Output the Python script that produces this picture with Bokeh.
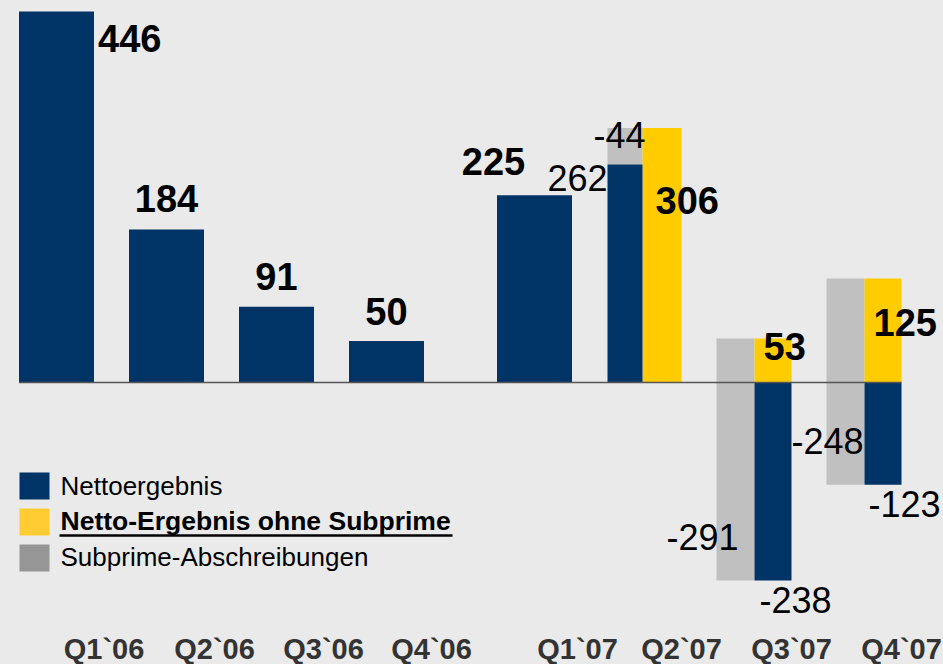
from bokeh.plotting import figure
from bokeh.models import Range1d
from bokeh.core.properties import value
from bokeh.embed import file_html
from bokeh.resources import INLINE

# ---------------- data ----------------
quarters = ["Q1`06", "Q2`06", "Q3`06", "Q4`06", "Q1`07", "Q2`07", "Q3`07", "Q4`07"]
netto = [446, 184, 91, 50, 225, 262, -238, -123]                 # Nettoergebnis
ohne_subprime = [None, None, None, None, None, 306, 53, 125]      # Netto-Ergebnis ohne Subprime
subprime = [None, None, None, None, None, -44, -291, -248]        # Subprime-Abschreibungen
legend_labels = ["Nettoergebnis", "Netto-Ergebnis ohne Subprime", "Subprime-Abschreibungen"]

# ---------------- style / layout ----------------
NAVY = "#003366"
YELLOW = "#ffcc00"
GREY = "#c0c0c0"
LEG_YELLOW = "#ffcc33"
LEG_GREY = "#969696"
BG = "#eaeaea"
FONT = value("Liberation Sans")

W, H = 943, 664
Y0 = 382      # pixel row of the zero line
S = 0.832     # pixels per unit


def ypx(py):
    return (Y0 - py) / S


p = figure(width=W, height=H,
           x_range=Range1d(0, W),
           y_range=Range1d(ypx(H), ypx(0)),
           output_backend="svg", toolbar_location=None,
           x_axis_location=None, y_axis_location=None,
           min_border=0, background_fill_color=BG, border_fill_color=BG,
           outline_line_color=None)
p.grid.visible = False

slot = [56 + 110 * i for i in range(4)] + [534 + 110 * i for i in range(4)]
HALF = 37.5

# ---------------- bars ----------------
single = [i for i in range(len(quarters)) if ohne_subprime[i] is None]
split = [i for i in range(len(quarters)) if ohne_subprime[i] is not None]

p.vbar(x=[slot[i] for i in single], width=2 * HALF,
       top=[netto[i] for i in single], bottom=0,
       fill_color=NAVY, line_color=None)

navy_l, navy_r, navy_t = [], [], []
grey_l, grey_r, grey_b, grey_t = [], [], [], []
yel_l, yel_r, yel_t = [], [], []
for i in split:
    c = slot[i]
    if netto[i] > 0:
        s = c - 2
        navy_l.append(c - 37); navy_r.append(s)
        grey_l.append(c - 37); grey_r.append(s)
    else:
        s = c
        grey_l.append(c - 38); grey_r.append(s)
        navy_l.append(s); navy_r.append(c + 37)
    navy_t.append(netto[i])
    grey_b.append(netto[i]); grey_t.append(ohne_subprime[i])
    yel_l.append(s); yel_r.append(c + 37); yel_t.append(ohne_subprime[i])

p.quad(left=grey_l, right=grey_r, bottom=grey_b, top=grey_t, fill_color=GREY, line_color=None)
p.quad(left=yel_l, right=yel_r, bottom=0, top=yel_t, fill_color=YELLOW, line_color=None)
p.quad(left=navy_l, right=navy_r, bottom=0, top=navy_t, fill_color=NAVY, line_color=None)

# zero line
p.segment(x0=[slot[0] - HALF], x1=[slot[-1] + 37], y0=[0], y1=[0],
          line_color="#555555", line_width=1.5)


# ---------------- texts ----------------
def add_text(xs, ys, texts, size, bold, align, xoff, yoff, color="#000000"):
    # yoff: wanted baseline distance (px, down) from the anchor; corrected for the
    # renderer's placement of the alphabetic baseline
    corr = round(0.37 * size)
    p.text(x=xs, y=ys, text=texts, text_font=FONT, text_font_size=value("%spx" % size),
           text_font_style="bold" if bold else "normal", text_align=align,
           text_baseline="alphabetic", x_offset=xoff, y_offset=[v - corr for v in yoff],
           text_color=color)


def lab(v):
    return str(v)


BOLD, REG = 38, 36

# Nettoergebnis labels
add_text([slot[0] + HALF], [netto[0]], [lab(netto[0])], BOLD, True, "left", [4], [41])
add_text([slot[i] for i in (1, 2, 3)], [netto[i] for i in (1, 2, 3)],
         [lab(netto[i]) for i in (1, 2, 3)], BOLD, True, "center", [0, 0, 0], [-17, -16, -15])
add_text([slot[4]], [netto[4]], [lab(netto[4])], BOLD, True, "center", [-41], [-20])
add_text([slot[5]], [netto[5]], [lab(netto[5])], REG, False, "right", [-37], [26])
add_text([slot[6], slot[7]], [netto[6], netto[7]], [lab(netto[6]), lab(netto[7])],
         REG, False, "left", [5, 4], [32, 32])

# ohne Subprime labels
add_text([slot[i] for i in split], [ohne_subprime[i] for i in split],
         [lab(ohne_subprime[i]) for i in split], BOLD, True, "left", [11, 9, 9], [87, 22, 58])

# Subprime labels (anchored at the bottom of the grey bar)
add_text([slot[i] for i in split], [netto[i] for i in split],
         [lab(subprime[i]) for i in split], REG, False, "right", [1, -16, -1], [-17, -31, -31])

# category labels
cat_off = [47.5, 48, 47, 45, 43, 37, 37, 37]
add_text([slot[i] + cat_off[i] for i in range(len(quarters))],
         [p.y_range.start] * len(quarters), quarters, 29, True, "center",
         [0] * len(quarters), [-5] * len(quarters), color="#333333")

# ---------------- legend ----------------
leg_cols = [NAVY, LEG_YELLOW, LEG_GREY]
tops = [472 + 36 * k for k in range(3)]
p.quad(left=[19] * 3, right=[49] * 3,
       top=[ypx(t) for t in tops], bottom=[ypx(t + 27) for t in tops],
       fill_color=leg_cols, line_color=None)
bases = [495, 530, 566]
add_text([60], [ypx(bases[0])], [legend_labels[0]], 26, False, "left", [0], [0])
add_text([60], [ypx(bases[1])], [legend_labels[1]], 26.5, True, "left", [0], [0])
add_text([60], [ypx(bases[2])], [legend_labels[2]], 26, False, "left", [0], [0])
p.segment(x0=[59], x1=[452], y0=[ypx(535)], y1=[ypx(535)], line_color="#000000", line_width=2.5)

html = file_html(p, INLINE, title="Nettoergebnis")
html = html.replace("</head>", "<style>html,body{background:%s;}</style></head>" % BG, 1)
open("out.html", "w").write(html)
